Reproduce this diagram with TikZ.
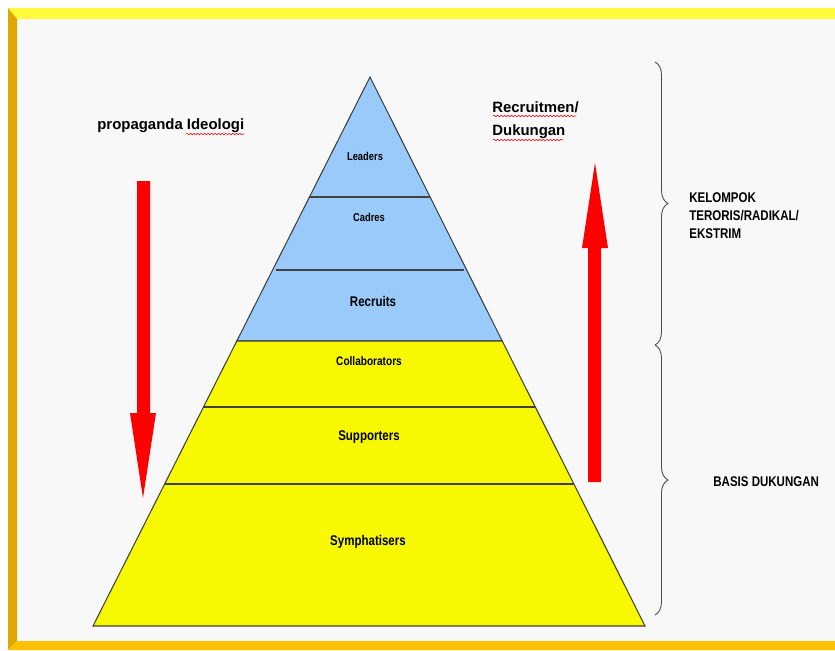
\documentclass[tikz,border=0pt]{standalone}
\usepackage{fontspec}
\setmainfont{Liberation Sans}
\newfontfamily\narrowfont{Liberation Sans}[FakeStretch=0.82]
\usepackage{tikz}
\usetikzlibrary{calc,decorations.pathreplacing,decorations.pathmorphing}
\definecolor{skyblue}{RGB}{153,202,250}
\definecolor{lemon}{RGB}{248,248,0}
\definecolor{topband}{RGB}{255,250,60}
\definecolor{leftband}{RGB}{222,168,0}
\definecolor{bottomband}{RGB}{255,192,0}
\definecolor{panel}{RGB}{248,248,248}

\begin{document}
\begin{tikzpicture}[x=0.02cm,y=-0.02cm,
  layer/.style={draw=black!75,line width=0.6pt},
  lab/.style={font=\narrowfont\bfseries\fontsize{#1}{#1}\selectfont},
  title/.style={font=\bfseries\fontsize{8.5}{13}\selectfont,anchor=west,align=left,inner sep=0pt},
  side/.style={font=\narrowfont\bfseries\fontsize{8}{10.2}\selectfont,anchor=west,align=left,inner sep=0pt},
  spell/.style={red,line width=0.3pt,decorate,decoration={snake,segment length=2pt,amplitude=0.5pt}}]
\useasboundingbox (0,0) rectangle (835,650);
\fill[white] (0,0) rectangle (835,650);
\fill[panel] (8,8) rectangle (835,650);
\fill[topband] (8,8) -- (835,8) -- (835,19) -- (17,19) -- cycle;
\fill[leftband] (8,8) -- (17,19) -- (17,641) -- (8,650) -- cycle;
\fill[bottomband] (8,650) -- (17,641) -- (835,641) -- (835,650) -- cycle;

\coordinate (apex) at (370,77);
\coordinate (bl) at (93,626);
\coordinate (br) at (645,626);
\foreach \n/\t in {a/0.2186,b/0.3515,c/0.4809,d/0.6011,e/0.7413} {
  \coordinate (l\n) at ($(apex)!\t!(bl)$);
  \coordinate (r\n) at ($(apex)!\t!(br)$);
}
\filldraw[layer,fill=skyblue] (apex) -- (rc) -- (lc) -- cycle;
\filldraw[layer,fill=lemon] (lc) -- (rc) -- (br) -- (bl) -- cycle;
\draw[layer] (la) -- (ra) ($(lb)+(3,0)$) -- ($(rb)+(-3,0)$) (ld) -- (rd) (le) -- (re);

\node[lab=6.5] (leaders) at (365,156) {Leaders};
\node[lab=6.5] (cadres) at (369,217) {Cadres};
\node[lab=8] (recruits) at (373,301) {Recruits};
\node[lab=7] (collab) at (369,361) {Collaborators};
\node[lab=8] (supporters) at (369,437) {Supporters};
\node[lab=8] (sympa) at (368,542) {Symphatisers};

\fill[red] (137,181) -- (150,181) -- (150,413) -- (156,413) -- (143,498) -- (130,413) -- (137,413) -- cycle;
\fill[red] (588,482) -- (601,482) -- (601,248) -- (608,248) -- (595,163) -- (582,248) -- (588,248) -- cycle;

\node[title] (propaganda) at (97,126) {propaganda Ideologi};
\node[title] (recruitmen) at (492,120) {Recruitmen/\\Dukungan};
\draw[spell] (186,134) -- (244,134);
\draw[spell] (493,116) -- (576,116);
\draw[spell] (493,140) -- (563,140);

\draw[black!70,line width=0.5pt,decorate,decoration={brace,amplitude=0.26cm}] (655,62) -- (655,345);
\draw[black!70,line width=0.5pt,decorate,decoration={brace,amplitude=0.26cm}] (655,345) -- (655,615);
\node[side] (kelompok) at (689,216) {KELOMPOK\\TERORIS/RADIKAL/\\EKSTRIM};
\node[side] (basis) at (713,482) {BASIS DUKUNGAN};
\end{tikzpicture}
\end{document}
